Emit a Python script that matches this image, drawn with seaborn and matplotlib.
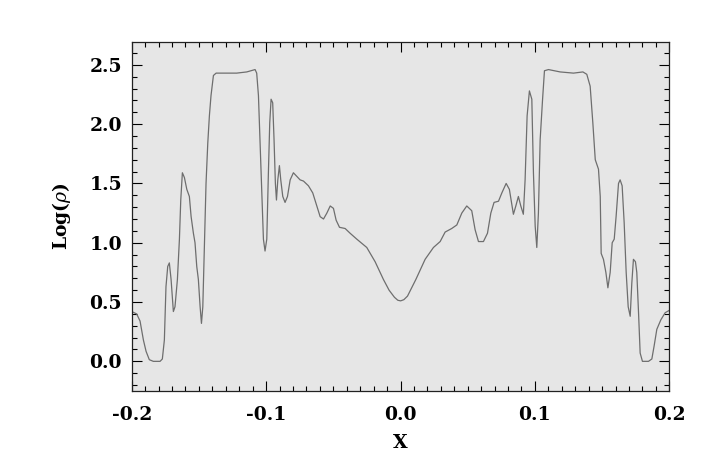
import numpy as np
import pandas as pd
import seaborn as sns
import matplotlib.pyplot as plt
from matplotlib.ticker import MultipleLocator

# density profile (x, log rho)
x_vals = [-0.2, -0.1963, -0.1938, -0.1913, -0.1893, -0.1869, -0.1839, -0.1789, -0.1772,
          -0.1757, -0.1745, -0.1732, -0.1720, -0.1707, -0.1690, -0.1678, -0.1660, -0.1645,
          -0.1635, -0.1623, -0.1608, -0.1590, -0.1571, -0.1558, -0.1541, -0.1529, -0.1516,
          -0.1504, -0.1491, -0.1481, -0.1471, -0.1459, -0.1447, -0.1434, -0.1422, -0.1410,
          -0.1392, -0.1372, -0.1318, -0.1219, -0.1144, -0.1082, -0.1070, -0.1057, -0.1045,
          -0.1033, -0.1020, -0.1008, -0.0995, -0.0983, -0.0973, -0.0963, -0.0951, -0.0941,
          -0.0931, -0.0923, -0.0913, -0.0901, -0.0891, -0.0876, -0.0859, -0.0841, -0.0821,
          -0.0797, -0.0772, -0.0747, -0.0722, -0.0685, -0.0653, -0.0623, -0.0598, -0.0573,
          -0.0548, -0.0523, -0.0499, -0.0479, -0.0454, -0.0412, -0.0375, -0.0325, -0.0251,
          -0.0189, -0.0127, -0.0085, -0.0045, -0.0020, 0.0001,
          0.0025, 0.0052, 0.0114, 0.0183, 0.0245, 0.0295, 0.0332, 0.0381, 0.0419, 0.0456, 0.0493,
          0.0530, 0.0555, 0.0580, 0.0617, 0.0647, 0.0672, 0.0696, 0.0729, 0.0754, 0.0786,
          0.0810, 0.0840, 0.0858, 0.0877, 0.0895, 0.0914, 0.0927, 0.0942, 0.0959, 0.0977,
          0.0989, 0.1002, 0.1014, 0.1026, 0.1039, 0.1057, 0.1071, 0.1101, 0.1188, 0.1287,
          0.1357, 0.1386, 0.1411, 0.1431, 0.1449, 0.1473, 0.1486, 0.1493, 0.1510, 0.1528,
          0.1543, 0.1560, 0.1575, 0.1590, 0.1604, 0.1622, 0.1634, 0.1649, 0.1664, 0.1679,
          0.1694, 0.1709, 0.1721, 0.1733, 0.1748, 0.1758, 0.1771, 0.1783, 0.1800, 0.1845,
          0.1870, 0.1887, 0.1907, 0.1937, 0.1969, 0.2]
log_rho = [0.42, 0.40, 0.34, 0.18, 0.084, 0.014, 0.0, 0.0, 0.02,
           0.18, 0.63, 0.80, 0.83, 0.69, 0.42, 0.46, 0.69, 1.03,
           1.36, 1.59, 1.55, 1.45, 1.39, 1.22, 1.08, 1.00, 0.80,
           0.69, 0.46, 0.32, 0.46, 0.97, 1.50, 1.84, 2.07, 2.24,
           2.41, 2.43, 2.43, 2.43, 2.44, 2.46, 2.43, 2.24, 1.84,
           1.45, 1.03, 0.93, 1.03, 1.59, 2.01, 2.21, 2.18, 1.87,
           1.50, 1.36, 1.53, 1.65, 1.53, 1.39, 1.34, 1.39, 1.53,
           1.59, 1.56, 1.53, 1.52, 1.48, 1.42, 1.31, 1.22, 1.20,
           1.25, 1.31, 1.29, 1.19, 1.13, 1.12, 1.08, 1.03, 0.96,
           0.84, 0.69, 0.60, 0.54, 0.515, 0.51,
           0.52, 0.55, 0.69, 0.86, 0.96, 1.01, 1.09, 1.12, 1.15, 1.25, 1.31,
           1.27, 1.11, 1.01, 1.01, 1.08, 1.25, 1.34, 1.35, 1.42, 1.50,
           1.45, 1.24, 1.31, 1.39, 1.31, 1.24, 1.53, 2.07, 2.28, 2.21,
           1.59, 1.14, 0.96, 1.25, 1.87, 2.21, 2.45, 2.46, 2.44, 2.43,
           2.44, 2.42, 2.32, 2.01, 1.70, 1.62, 1.39, 0.91, 0.86, 0.75,
           0.62, 0.75, 1.00, 1.03, 1.22, 1.50, 1.53, 1.48, 1.17, 0.75,
           0.46, 0.38, 0.66, 0.86, 0.84, 0.75, 0.41, 0.07, 0.0, 0.0,
           0.02, 0.13, 0.27, 0.35, 0.41, 0.43]
x_ticks = [-0.2, -0.1, 0.0, 0.1, 0.2]
y_ticks = [0.0, 0.5, 1.0, 1.5, 2.0, 2.5]

df = pd.DataFrame({"x": x_vals, "logrho": log_rho})

sns.set_theme(style="ticks")
plt.rcParams["font.family"] = ["DejaVu Serif"]
plt.rcParams["mathtext.fontset"] = "dejavuserif"

fig = plt.figure(figsize=(7.1, 4.74), dpi=100)
ax = fig.add_axes([0.1855, 0.1751, 0.7572, 0.7357])
ax.set_facecolor("#e6e6e6")

sns.lineplot(data=df, x="x", y="logrho", sort=False, color="#6e6e6e", lw=0.9, ax=ax)

ax.set_xlim(-0.2, 0.2)
ax.set_ylim(-0.25, 2.69)
ax.set_xticks(x_ticks)
ax.set_yticks(y_ticks)
ax.set_xticklabels(["%.1f" % t for t in x_ticks])
ax.set_yticklabels(["%.1f" % t for t in y_ticks])
ax.xaxis.set_minor_locator(MultipleLocator(0.01))
ax.yaxis.set_minor_locator(MultipleLocator(0.1))
ax.tick_params(which="both", direction="in", top=True, right=True, width=0.8,
               color="black", labelcolor="black")
ax.tick_params(which="major", length=7.5, labelsize=13.5, pad=11)
ax.tick_params(axis="y", which="major", pad=7)
ax.tick_params(which="minor", length=3.8)
for lab in ax.get_xticklabels() + ax.get_yticklabels():
    lab.set_fontweight("bold")
for s in ax.spines.values():
    s.set_linewidth(0.9)
    s.set_color("#222222")

ax.set_xlabel("X", fontsize=13.5, fontweight="bold", labelpad=7, color="black")
ax.set_ylabel(r"Log($\rho$)", fontsize=13.5, fontweight="bold", labelpad=12, color="black")

fig.savefig("out.png", dpi=100)
